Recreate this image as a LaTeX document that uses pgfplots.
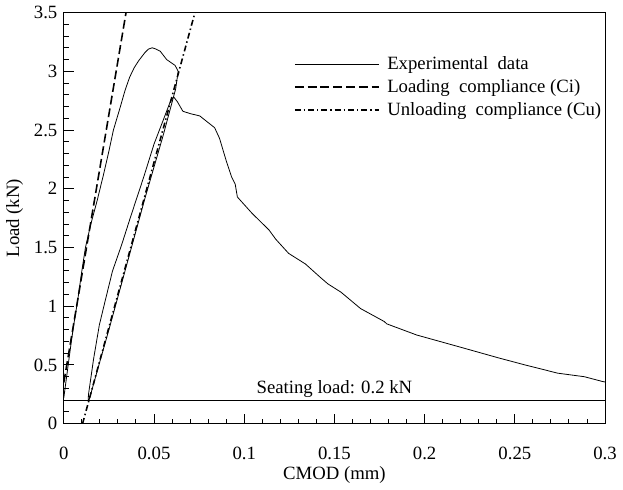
\documentclass[border=0pt]{standalone}
\usepackage{fontspec}
\setmainfont{Liberation Serif}
\usepackage{pgfplots}
\pgfplotsset{compat=1.18}
\begin{document}
\fontsize{19}{22}\selectfont
\begin{tikzpicture}
\begin{axis}[
  scale only axis,
  width=549pt, height=417pt,
  xmin=0, xmax=0.3, ymin=0, ymax=3.5,
  xtick={0,0.05,0.1,0.15,0.2,0.25,0.3},
  xticklabels={0,0.05,0.1,0.15,0.2,0.25,0.3},
  ytick={0,0.5,1,1.5,2,2.5,3,3.5},
  yticklabels={0,0.5,1,1.5,2,2.5,3,3.5},
  minor x tick num=4, minor y tick num=4,
  tick align=inside,
  xtick pos=left, ytick pos=left,
  major tick length=10pt, minor tick length=5pt,
  tick style={line width=1pt, black},
  axis line style={line width=1pt},
  ticklabel style={font=\fontsize{19}{22}\selectfont},
  xticklabel shift=17pt,
  label style={font=\fontsize{19}{22}\selectfont},
  xlabel={CMOD (mm)}, ylabel={Load (kN)},
  xlabel style={yshift=6pt},
  ylabel style={yshift=-2pt},
  /pgf/number format/assume math mode=true,
  legend cell align=left,
  legend style={draw=none, fill=none, at={(0.425,0.898)}, anchor=north west, inner sep=0pt,
    font=\fontsize{19}{22}\selectfont, row sep=3pt},
  legend image code/.code={\draw[#1] (0pt,0pt) -- (85pt,0pt); \path (91pt,0pt);},
]
\addplot[black, line width=0.8pt] coordinates {
(0,0.22) (0.002,0.45) (0.004,0.68) (0.0055,0.84) (0.0077,1.05) (0.010,1.3) (0.012,1.5)
(0.015,1.7) (0.0185,1.9) (0.022,2.12) (0.025,2.32) (0.0275,2.5) (0.031,2.68) (0.034,2.84)
(0.0365,2.95) (0.039,3.03) (0.0415,3.09) (0.045,3.16) (0.047,3.19) (0.049,3.2) (0.051,3.19)
(0.0535,3.17) (0.057,3.10) (0.0617,3.05) (0.0634,3.0)
(0.062,2.85) (0.055,2.45) (0.045,1.92) (0.035,1.36) (0.025,0.8) (0.018,0.42) (0.014,0.2)
(0.0135,0.2) (0.0137,0.25) (0.0165,0.55) (0.0197,0.84) (0.023,1.05) (0.027,1.3) (0.032,1.52)
(0.037,1.76) (0.0443,2.10) (0.050,2.38) (0.055,2.58) (0.0595,2.76) (0.061,2.78) (0.063,2.74)
(0.066,2.66) (0.070,2.64) (0.0754,2.62) (0.077,2.60) (0.0836,2.52) (0.0863,2.43) (0.090,2.24)
(0.093,2.10) (0.095,2.04) (0.0962,1.93) (0.1044,1.79) (0.1137,1.65) (0.1175,1.57) (0.1246,1.45)
(0.1339,1.36) (0.1426,1.24) (0.1464,1.19) (0.1536,1.12) (0.1645,0.98) (0.1776,0.87) (0.179,0.85)
(0.1956,0.755) (0.219,0.655) (0.241,0.56) (0.2557,0.50) (0.2738,0.43) (0.2885,0.40) (0.2984,0.36) (0.3,0.355)
};
\addlegendentry{Experimental\ \ data}
\addplot[black, line width=1.6pt, dash pattern=on 9pt off 4pt] coordinates {(0,0.35) (0.0345,3.5)};
\addlegendentry{Loading\ \ compliance (Ci)}
\addplot[black, line width=1.6pt, dash pattern=on 6pt off 3pt on 1.5pt off 3pt] coordinates {(0.0104,0) (0.0727,3.5)};
\addlegendentry{Unloading\ \ compliance (Cu)}
\addplot[black, line width=0.8pt, forget plot] coordinates {(0,0.2) (0.3,0.2)};
\node[anchor=south, inner sep=3pt] at (axis cs:0.15,0.2) {Seating load: 0.2 kN};
\end{axis}
\end{tikzpicture}
\end{document}
